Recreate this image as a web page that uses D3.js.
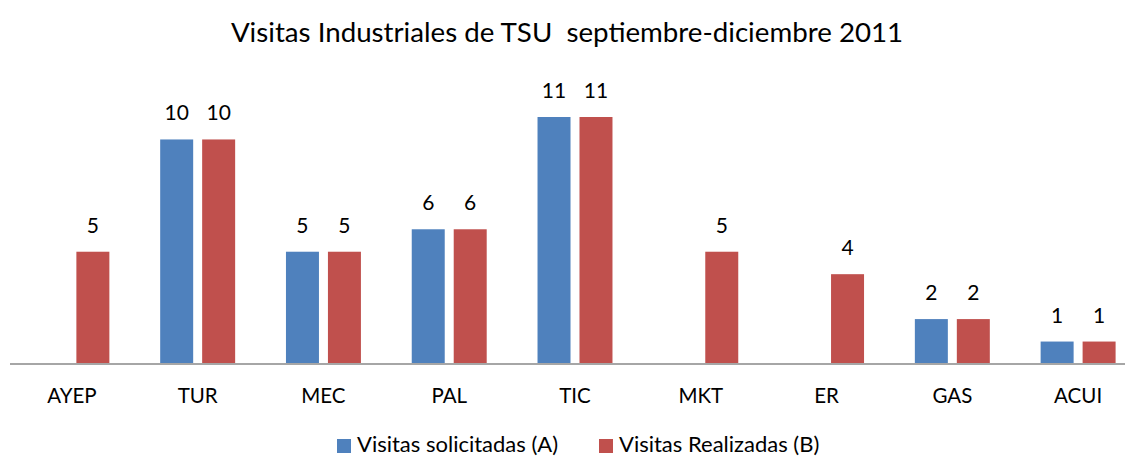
<!DOCTYPE html>
<html>
<head>
<meta charset="utf-8">
<script src="https://cdn.jsdelivr.net/npm/d3@7"></script>
<style>
  body { margin: 0; background: #fff; }
  text { font-family: Lato, "Open Sans", sans-serif; fill: #000; }
</style>
</head>
<body>
<div id="chart"></div>
<script>
var categories = ["AYEP", "TUR", "MEC", "PAL", "TIC", "MKT", "ER", "GAS", "ACUI"];
var solicitadas = [null, 10, 5, 6, 11, null, null, 2, 1];
var realizadas = [5, 10, 5, 6, 11, 5, 4, 2, 1];
var seriesNames = ["Visitas solicitadas (A)", "Visitas Realizadas (B)"];
var seriesColors = ["#4f81bd", "#c0504d"];
var title = "Visitas Industriales de TSU  septiembre-diciembre 2011";

var width = 1125, height = 456;

var svg = d3.select("#chart").append("svg")
    .attr("width", width)
    .attr("height", height);

var rows = categories.map((c, i) => ({ cat: c, values: [solicitadas[i], realizadas[i]] }));

var x0 = d3.scaleBand()
    .domain(categories)
    .range([9, 1141])
    .paddingInner(0.404)
    .paddingOuter(0.202);

var x1 = d3.scaleBand()
    .domain([0, 1])
    .range([0, x0.bandwidth()])
    .paddingInner(0.214);

var y = d3.scaleLinear()
    .domain([0, 11])
    .range([364, 117]);

svg.append("text")
    .attr("x", 567)
    .attr("y", 42)
    .attr("text-anchor", "middle")
    .style("font-size", "27.7px")
    .style("white-space", "pre")
    .text(title);

var g = svg.selectAll(".grp")
    .data(rows)
    .enter()
    .append("g")
    .attr("class", "grp")
    .attr("transform", d => "translate(" + x0(d.cat) + ",0)");

var bars = g.selectAll(".bar")
    .data(d => d.values.map((v, k) => ({ k: k, v: v })).filter(e => e.v != null))
    .enter();

bars.append("rect")
    .attr("x", d => x1(d.k))
    .attr("width", x1.bandwidth())
    .attr("y", d => y(d.v))
    .attr("height", d => y(0) - y(d.v))
    .style("fill", d => seriesColors[d.k]);

bars.append("text")
    .attr("x", d => x1(d.k) + x1.bandwidth() / 2)
    .attr("y", d => y(d.v) - 19)
    .attr("text-anchor", "middle")
    .style("font-size", "21px")
    .text(d => d.v);

// axis
var xAxis = d3.axisBottom(x0).tickSize(0).tickPadding(0);
var ax = svg.append("g")
    .attr("transform", "translate(0," + y(0) + ")")
    .call(xAxis);
ax.select(".domain").attr("d", "M10,0H" + width).style("stroke", "#a6a6a6").style("stroke-width", 2);
ax.selectAll(".tick text")
    .attr("y", 39)
    .attr("dy", 0)
    .style("font-size", "20.5px")
    .style("font-family", "Lato, 'Open Sans', sans-serif")
    .style("fill", "#000");

// legend
var legendX = [337, 599];
var lg = svg.selectAll(".leg")
    .data(seriesNames)
    .enter()
    .append("g")
    .attr("class", "leg")
    .attr("transform", (d, i) => "translate(" + legendX[i] + ",439)");

lg.append("rect")
    .attr("width", 14)
    .attr("height", 14)
    .style("fill", (d, i) => seriesColors[i]);

lg.append("text")
    .attr("x", 20)
    .attr("y", 13)
    .style("font-size", "22px")
    .text(d => d);
</script>
</body>
</html>
